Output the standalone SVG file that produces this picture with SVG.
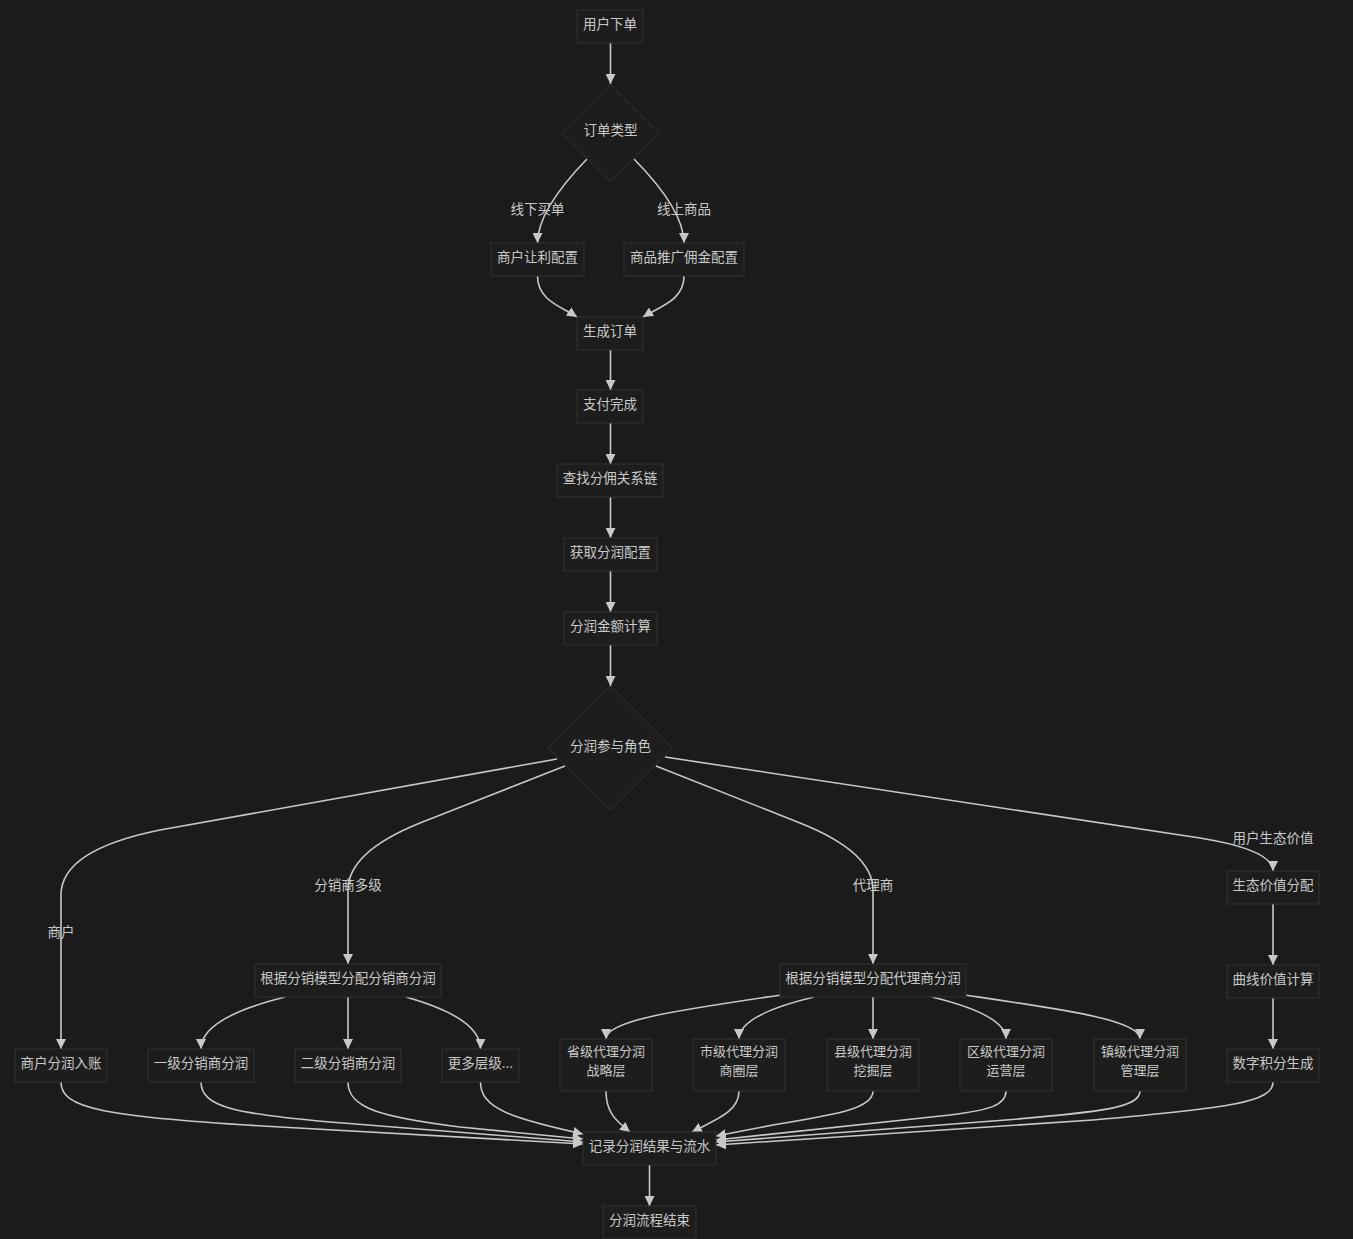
<svg xmlns="http://www.w3.org/2000/svg" width="1353" height="1239" viewBox="0 0 1353 1239">
<defs>
<style>
.bg{fill:#1b1b1b}
.node rect,.node polygon{fill:#1d1d1d;stroke:#333333;stroke-width:1}
.node text,.lbl{fill:#c8c8c8;font-family:"Noto Sans CJK SC","Noto Sans",sans-serif;font-size:13.5px;text-anchor:middle}
.node text.two{font-size:13px}
.edges path{fill:none;stroke:#c8c8c8;stroke-width:1.6;marker-end:url(#arr)}
</style>
<marker id="arr" viewBox="0 0 10 10" refX="10" refY="5" markerWidth="10" markerHeight="10" markerUnits="userSpaceOnUse" orient="auto">
<path d="M0,0 L10,5 L0,10 z" fill="#c8c8c8"/>
</marker>
</defs>
<rect class="bg" x="0" y="0" width="1353" height="1239"/>

<g class="edges">
<path d="M610.5,43 L610.5,84"/>
<path d="M587,159 Q537.5,210 537.5,243"/>
<path d="M634,159 Q684,210 684,243"/>
<path d="M537.5,276 C537.5,300 560,306 577,317"/>
<path d="M684,276 C684,300 661,306 643,317"/>
<path d="M610.5,350 L610.5,390"/>
<path d="M610.5,423 L610.5,464"/>
<path d="M610.5,497 L610.5,538"/>
<path d="M610.5,571 L610.5,612"/>
<path d="M610.5,645 L610.5,686"/>
<path d="M557,759 L160,830 Q61,850 61,895 L61,1049"/>
<path d="M565,766 L420,823 Q348,852 348,890 L348,964"/>
<path d="M656,766 L800,823 Q873,852 873,890 L873,964"/>
<path d="M665,757 L1200,838 Q1273,850 1273,871"/>
<path d="M1273,904 L1273,965"/>
<path d="M1273,998 L1273,1049"/>
<path d="M285,997 Q201,1018 201,1049"/>
<path d="M348,997 L348,1049"/>
<path d="M406,997 Q480.5,1018 480.5,1049"/>
<path d="M781,995 C680,1010 606,1020 606,1039"/>
<path d="M814,997 Q739,1015 739,1039"/>
<path d="M873,997 L873,1039"/>
<path d="M932,997 Q1006,1015 1006,1039"/>
<path d="M965,995 C1066,1010 1140,1020 1140,1039"/>
<path d="M61,1082 C61,1108 100,1117 280,1127 L583,1144"/>
<path d="M201,1082 C201,1108 240,1114 330,1122 L583,1142"/>
<path d="M348,1082 C348,1108 380,1117 460,1127 L583,1139"/>
<path d="M480.5,1082 C480.5,1108 510,1118 583,1134"/>
<path d="M606,1091 C606,1112 615,1120 630,1132"/>
<path d="M739,1091 C739,1112 715,1120 692,1132"/>
<path d="M873,1091 C873,1108 840,1114 773,1125 L716,1136"/>
<path d="M1006,1091 C1006,1105 990,1110 950,1115 L716,1140"/>
<path d="M1140,1091 C1140,1108 1100,1112 1006,1120 L716,1142"/>
<path d="M1273,1082 C1273,1102 1230,1108 1093,1120 L716,1145"/>
<path d="M649.5,1165 L649.5,1206"/>
</g>

<g class="labels">
<text class="lbl" x="537.5" y="214">线下买单</text>
<text class="lbl" x="684" y="214">线上商品</text>
<text class="lbl" x="61" y="937">商户</text>
<text class="lbl" x="348" y="890">分销商多级</text>
<text class="lbl" x="873" y="890">代理商</text>
<text class="lbl" x="1273" y="843">用户生态价值</text>
</g>

<g id="n1" class="node"><rect x="577" y="10" width="66" height="33"/><text x="610" y="28.5">用户下单</text></g>
<g id="d1" class="node"><polygon points="610.5,84 659.5,133 610.5,182 561.5,133"/><text x="610.5" y="135">订单类型</text></g>
<g id="n2" class="node"><rect x="491" y="243" width="93" height="33"/><text x="537.5" y="261.5">商户让利配置</text></g>
<g id="n3" class="node"><rect x="624" y="243" width="120" height="33"/><text x="684" y="261.5">商品推广佣金配置</text></g>
<g id="n4" class="node"><rect x="577" y="317" width="66" height="33"/><text x="610" y="335.5">生成订单</text></g>
<g id="n5" class="node"><rect x="577" y="390" width="66" height="33"/><text x="610" y="408.5">支付完成</text></g>
<g id="n6" class="node"><rect x="557" y="464" width="106" height="33"/><text x="610" y="482.5">查找分佣关系链</text></g>
<g id="n7" class="node"><rect x="564" y="538" width="93" height="33"/><text x="610.5" y="556.5">获取分润配置</text></g>
<g id="n8" class="node"><rect x="564" y="612" width="93" height="33"/><text x="610.5" y="630.5">分润金额计算</text></g>
<g id="d2" class="node"><polygon points="610.5,686 672.5,748 610.5,810 548.5,748"/><text x="610.5" y="751">分润参与角色</text></g>
<g id="n9" class="node"><rect x="1227" y="871" width="92" height="33"/><text x="1273" y="889.5">生态价值分配</text></g>
<g id="n10" class="node"><rect x="255" y="964" width="186" height="33"/><text x="348" y="982.5">根据分销模型分配分销商分润</text></g>
<g id="n11" class="node"><rect x="780" y="964" width="186" height="33"/><text x="873" y="982.5">根据分销模型分配代理商分润</text></g>
<g id="n12" class="node"><rect x="1227" y="965" width="92" height="33"/><text x="1273" y="983.5">曲线价值计算</text></g>
<g id="n13" class="node"><rect x="15" y="1049" width="92" height="33"/><text x="61" y="1067.5">商户分润入账</text></g>
<g id="n14" class="node"><rect x="148" y="1049" width="106" height="33"/><text x="201" y="1067.5">一级分销商分润</text></g>
<g id="n15" class="node"><rect x="295" y="1049" width="106" height="33"/><text x="348" y="1067.5">二级分销商分润</text></g>
<g id="n16" class="node"><rect x="442" y="1049" width="77" height="33"/><text x="480.5" y="1067.5">更多层级...</text></g>
<g id="n17" class="node"><rect x="560" y="1039" width="92" height="52"/><text class="two"><tspan x="606" y="1055.5">省级代理分润</tspan><tspan x="606" y="1074.5">战略层</tspan></text></g>
<g id="n18" class="node"><rect x="693" y="1039" width="92" height="52"/><text class="two"><tspan x="739" y="1055.5">市级代理分润</tspan><tspan x="739" y="1074.5">商圈层</tspan></text></g>
<g id="n19" class="node"><rect x="827" y="1039" width="92" height="52"/><text class="two"><tspan x="873" y="1055.5">县级代理分润</tspan><tspan x="873" y="1074.5">挖掘层</tspan></text></g>
<g id="n20" class="node"><rect x="960" y="1039" width="92" height="52"/><text class="two"><tspan x="1006" y="1055.5">区级代理分润</tspan><tspan x="1006" y="1074.5">运营层</tspan></text></g>
<g id="n21" class="node"><rect x="1094" y="1039" width="92" height="52"/><text class="two"><tspan x="1140" y="1055.5">镇级代理分润</tspan><tspan x="1140" y="1074.5">管理层</tspan></text></g>
<g id="n22" class="node"><rect x="1227" y="1049" width="92" height="33"/><text x="1273" y="1067.5">数字积分生成</text></g>
<g id="n23" class="node"><rect x="583" y="1132" width="133" height="33"/><text x="649.5" y="1150.5">记录分润结果与流水</text></g>
<g id="n24" class="node"><rect x="603" y="1206" width="93" height="33"/><text x="649.5" y="1224.5">分润流程结束</text></g>
</svg>
